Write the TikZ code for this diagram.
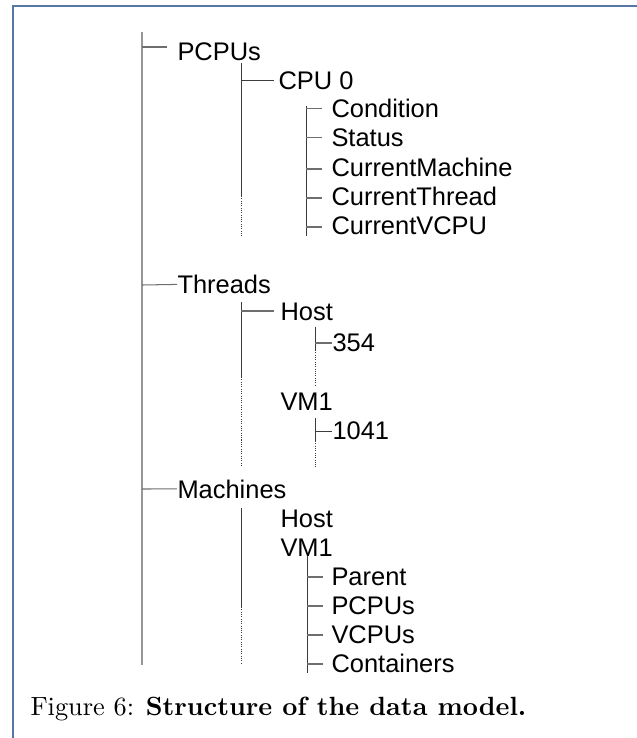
\documentclass[tikz,border=0pt]{standalone}
\usepackage{fontspec}
\newfontfamily\arialf{Liberation Sans}
\definecolor{framecol}{RGB}{88,118,165}
\definecolor{trunkcol}{RGB}{150,150,150}
\definecolor{linecol}{RGB}{60,60,60}
\definecolor{tickcol}{RGB}{110,110,110}
\begin{document}
\begin{tikzpicture}[x=0.389pt,y=-0.389pt,
  item/.style={anchor=base west,inner sep=0pt,font=\arialf\fontsize{9.9}{12}\selectfont},
  trunk/.style={draw=trunkcol,line width=0.6pt},
  vline/.style={draw=linecol,line width=0.35pt},
  dotline/.style={draw=linecol,line width=0.35pt,dash pattern=on 0.4pt off 0.5pt},
  tick/.style={draw=tickcol,line width=0.4pt},
  framel/.style={draw=framecol,line width=0.6pt}]
\useasboundingbox (0,0) rectangle (637,738);
% frame
\coordinate (fbl) at (13,738);
\coordinate (ftl) at (13,6);
\coordinate (ftr) at (637,6);
\draw[framel] (fbl) -- (ftl) -- (ftr);

% level 1
\node[item] (pcpus) at (177,60.5) {PCPUs};
\node[item] (threads) at (177,293.5) {Threads};
\node[item] (machines) at (177,498) {Machines};
% level 2
\node[item] (cpu0) at (278,89) {CPU 0};
\node[item] (thost) at (280,320.5) {Host};
\node[item] (tvm) at (280,410.5) {VM1};
\node[item] (mhost) at (280,527.5) {Host};
\node[item] (mvm) at (280,556.5) {VM1};
% level 3
\node[item] (cond) at (331,117.7) {Condition};
\node[item] (status) at (331,146.9) {Status};
\node[item] (curm) at (331,176.2) {CurrentMachine};
\node[item] (curt) at (331,205.4) {CurrentThread};
\node[item] (curv) at (331,234.7) {CurrentVCPU};
\node[item] (n354) at (332,351.5) {354};
\node[item] (n1041) at (332,439.5) {1041};
\node[item] (parent) at (331,585.5) {Parent};
\node[item] (mpcpus) at (331,614.5) {PCPUs};
\node[item] (vcpus) at (331,643.5) {VCPUs};
\node[item] (cont) at (331,672.5) {Containers};

% trunk
\coordinate (tr0) at (142,32);
\coordinate (tr1) at (142,665);
\draw[trunk] (tr0) -- (tr1);
\coordinate (k1) at (142,47);
\coordinate (k2) at (142,285);
\coordinate (k3) at (142,489);
\draw[tick] (k1) -- (167,47);
\draw[tick] (k2) -- (threads.west);
\draw[tick] (k3) -- (machines.west);

% PCPUs subtree
\coordinate (a0) at (241,63);
\coordinate (a1) at (241,196);
\coordinate (a2) at (241,237);
\draw[vline] (a0) -- (a1);
\draw[dotline] (a1) -- (a2);
\coordinate (ak) at (241,80);
\draw[vline] (ak) -- ([xshift=-1.5pt]ak -| cpu0.west);
\coordinate (b0) at (306,106);
\coordinate (b1) at (306,236);
\draw[vline] (b0) -- (b1);
\foreach \n/\yy in {cond/108.5,status/137.5,curm/169,curt/198,curv/227}{
  \draw[tick] (306,\yy) -- ([xshift=-3.4pt]306,\yy -| \n.west);
}

% Threads subtree
\coordinate (c0) at (241,302);
\coordinate (c1) at (241,377);
\coordinate (c2) at (241,467);
\draw[vline] (c0) -- (c1);
\draw[dotline] (c1) -- (c2);
\coordinate (ck) at (241,311);
\draw[tick] (ck) -- ([xshift=-2.3pt]ck -| thost.west);
\coordinate (d0) at (315,327);
\coordinate (d1) at (315,350);
\coordinate (d2) at (315,387);
\draw[vline] (d0) -- (d1);
\draw[dotline] (d1) -- (d2);
\coordinate (dk) at (315,343);
\draw[tick] (dk) -- (dk -| n354.west);
\coordinate (e0) at (315,418);
\coordinate (e1) at (315,441);
\coordinate (e2) at (315,467);
\draw[vline] (e0) -- (e1);
\draw[dotline] (e1) -- (e2);
\coordinate (ek) at (315,431);
\draw[vline] (ek) -- (ek -| n1041.west);

% Machines subtree
\coordinate (f0) at (241,508);
\coordinate (f1) at (241,607);
\coordinate (f2) at (241,663);
\draw[vline] (f0) -- (f1);
\draw[dotline] (f1) -- (f2);
\coordinate (g0) at (307,556);
\coordinate (g1) at (307,673);
\draw[vline] (g0) -- (g1);
\foreach \n/\yy in {parent/577,mpcpus/606,vcpus/635,cont/664}{
  \draw[tick] (307,\yy) -- ([xshift=-3.1pt]307,\yy -| \n.west);
}

% caption
\node[anchor=base west,inner sep=0pt,font=\fontsize{10.25}{12}\selectfont] (cap) at (30,715) {Figure 6: \textbf{Structure of the data model.}};
\end{tikzpicture}
\end{document}
